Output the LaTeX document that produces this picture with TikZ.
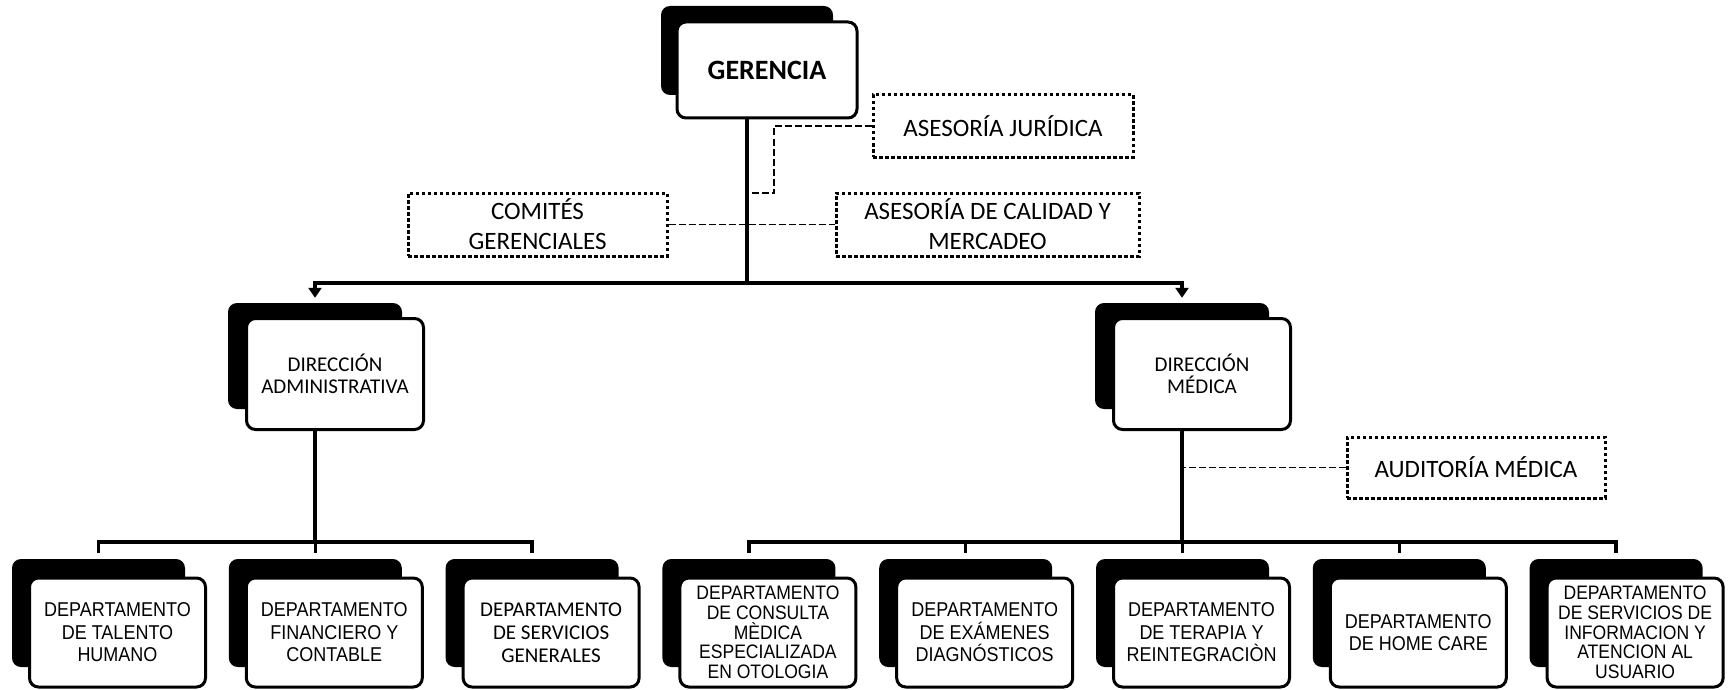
\documentclass[tikz,border=0pt]{standalone}
\usepackage{fontspec}
\setmainfont{Carlito}
\newfontfamily\arialfont[FakeStretch=0.9]{Liberation Sans}
\usetikzlibrary{arrows.meta}
\tikzset{front/.style={draw, line width=3pt, fill=white, rounded corners=9pt, align=center, inner sep=1pt, minimum width=176pt, minimum height=109pt}}
\tikzset{back/.style={fill=black, rounded corners=9pt, inner sep=0pt, minimum width=173pt, minimum height=108pt}}
\tikzset{aux/.style={draw, line width=3pt, dash pattern=on 3.5pt off 2.5pt, align=center, inner sep=0pt, font=\fontsize{25}{30}\selectfont}}
\tikzset{dept/.style={font=\arialfont\fontsize{20}{22.5}\selectfont}}
\tikzset{deptlong/.style={font=\arialfont\fontsize{19.5}{19.7}\selectfont}}
\tikzset{link/.style={line width=3.5pt}}
\tikzset{aside/.style={line width=1.5pt, dash pattern=on 7pt off 3pt}}

\begin{document}
\begin{tikzpicture}[x=1pt, y=-1pt]
    \useasboundingbox (0,0) rectangle (1731,690);
    % upper levels
    \node[back, minimum width=172pt, minimum height=89pt] (ger-s) at (747,50.5) {};
    \node[front, minimum width=180pt, minimum height=96pt, font=\bfseries\fontsize{28}{32}\selectfont] (ger) at (767,70) {GERENCIA};
    \node[back, minimum width=174pt, minimum height=106pt] (adm-s) at (315,356) {};
    \node[front, minimum width=177pt, minimum height=111pt, font=\fontsize{21}{22}\selectfont] (adm) at (335,374) {DIRECCIÓN\\ADMINISTRATIVA};
    \node[back, minimum width=174pt, minimum height=106pt] (med-s) at (1182,356) {};
    \node[front, minimum width=177pt, minimum height=111pt, font=\fontsize{21}{22}\selectfont] (med) at (1202,374) {DIRECCIÓN\\MÉDICA};

    \node[aux, minimum width=260pt, minimum height=62pt] (jur) at (1003,126) {ASESORÍA JURÍDICA};
    \node[aux, minimum width=259pt, minimum height=63pt] (com) at (537.5,224.5) {COMITÉS\\GERENCIALES};
    \node[aux, minimum width=303pt, minimum height=63pt] (cal) at (987.5,224.5) {ASESORÍA DE CALIDAD Y\\MERCADEO};
    \node[aux, minimum width=258pt, minimum height=61pt] (aud) at (1476,467.5) {AUDITORÍA MÉDICA};

    % departments
    \node[back] (tal-s) at (98.5,613) {};
    \node[front, dept] (tal) at (117.5,632.5) {DEPARTAMENTO\\DE TALENTO\\HUMANO};
    \node[back] (fin-s) at (315.3,613) {};
    \node[front, dept] (fin) at (334.3,632.5) {DEPARTAMENTO\\FINANCIERO Y\\CONTABLE};
    \node[back] (ser-s) at (532.1,613) {};
    \node[front, font=\fontsize{21}{23}\selectfont] (ser) at (551.1,632.5) {DEPARTAMENTO\\DE SERVICIOS\\GENERALES};
    \node[back] (con-s) at (748.9,613) {};
    \node[front, deptlong] (con) at (767.9,632.5) {DEPARTAMENTO\\DE CONSULTA\\MÈDICA\\ESPECIALIZADA\\EN OTOLOGIA};
    \node[back] (exa-s) at (965.7,613) {};
    \node[front, dept] (exa) at (984.7,632.5) {DEPARTAMENTO\\DE EXÁMENES\\DIAGNÓSTICOS};
    \node[back] (ter-s) at (1182.5,613) {};
    \node[front, dept] (ter) at (1201.5,632.5) {DEPARTAMENTO\\DE TERAPIA Y\\REINTEGRACIÒN};
    \node[back] (hom-s) at (1399.3,613) {};
    \node[front, dept] (hom) at (1418.3,632.5) {DEPARTAMENTO\\DE HOME CARE};
    \node[back] (inf-s) at (1616.1,613) {};
    \node[front, deptlong] (inf) at (1635.1,632.5) {DEPARTAMENTO\\DE SERVICIOS DE\\INFORMACION Y\\ATENCION AL\\USUARIO};

    % connectors
    \coordinate (bus) at (747,283);
    \coordinate (busA) at (315,542);
    \coordinate (busB) at (1182,542);
    \coordinate (jbend) at (774,193);
    \draw[link] (ger.south -| ger-s) -- (bus);
    \foreach \n in {adm, med}
        \draw[link, -{Triangle[width=13pt, length=10pt]}, shorten >=5pt] (bus) -| (\n-s.north);
    \draw[link] (adm.south -| adm-s) -- (busA);
    \foreach \n in {tal, fin, ser}
        \draw[link, shorten >=6pt] (busA) -| (\n-s.north);
    \draw[link] (med.south -| med-s) -- (busB);
    \foreach \n in {con, exa, ter, hom, inf}
        \draw[link, shorten >=6pt] (busB) -| (\n-s.north);

    \draw[aside] (jur.west) -| (jbend) -- (jbend -| bus);
    \draw[aside] (com.east) -- (cal.west);
    \draw[aside] (aud.west) -- (aud.west -| med-s);
\end{tikzpicture}
\end{document}
